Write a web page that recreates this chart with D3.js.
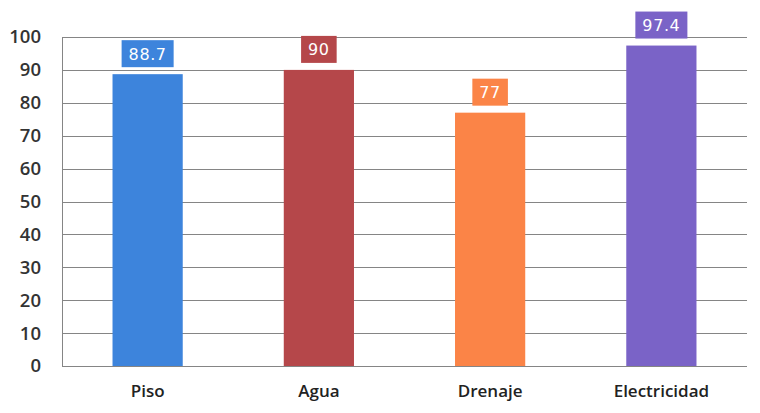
<!DOCTYPE html>
<html>
<head>
<meta charset="utf-8">
<script src="https://cdn.jsdelivr.net/npm/d3@7"></script>
<style>
  html, body { margin: 0; padding: 0; background: #fff; }
  svg { display: block; }
</style>
</head>
<body>
<svg id="chart" width="760" height="413"></svg>
<script>
// Porcentaje de viviendas con cada servicio
const categories = ["Piso", "Agua", "Drenaje", "Electricidad"];
const values = [88.7, 90, 77, 97.4];
const colors = ["#3d84dc", "#b5474a", "#fb8447", "#7a63c7"];
const yTicks = [0, 10, 20, 30, 40, 50, 60, 70, 80, 90, 100];

const svg = d3.select("#chart");
const margin = { left: 62, right: 13, top: 37, bottom: 47 };
const W = 760, H = 413;

const x = d3.scaleBand()
  .domain(categories)
  .range([margin.left, W - margin.right])
  .paddingInner(0.59)
  .paddingOuter(0.295);

const y = d3.scaleLinear()
  .domain([0, 100])
  .range([H - margin.bottom, margin.top]);

// horizontal gridlines
svg.append("g")
  .selectAll("line")
  .data(yTicks)
  .join("line")
  .attr("x1", margin.left)
  .attr("x2", W - margin.right)
  .attr("y1", d => Math.round(y(d)) + 0.5)
  .attr("y2", d => Math.round(y(d)) + 0.5)
  .attr("stroke", "#858585")
  .attr("stroke-width", 1);

// left axis line
svg.append("line")
  .attr("x1", margin.left + 0.5)
  .attr("x2", margin.left + 0.5)
  .attr("y1", y(100))
  .attr("y2", y(0))
  .attr("stroke", "#858585");

// y tick labels
const yAxis = d3.axisLeft(y).tickValues(yTicks).tickSize(0).tickPadding(21);
const gy = svg.append("g")
  .attr("transform", `translate(${margin.left},0)`)
  .call(yAxis);
gy.select(".domain").remove();
gy.selectAll("text")
  .attr("font-family", "'Open Sans', sans-serif")
  .attr("font-weight", 600)
  .attr("font-size", 18.5)
  .attr("fill", "#333");

// bars
svg.append("g")
  .selectAll("rect")
  .data(values)
  .join("rect")
  .attr("x", (d, i) => x(categories[i]))
  .attr("width", x.bandwidth())
  .attr("y", d => y(d))
  .attr("height", d => y(0) - y(d))
  .attr("fill", (d, i) => colors[i]);

// value labels in coloured boxes
const lab = svg.append("g")
  .selectAll("g")
  .data(values)
  .join("g")
  .attr("transform", (d, i) => `translate(${x(categories[i]) + x.bandwidth() / 2},${y(d) - 7})`);

lab.each(function(d, i) {
  const g = d3.select(this);
  const t = g.append("text")
    .attr("text-anchor", "middle")
    .attr("y", -7.5)
    .attr("font-family", "'DejaVu Sans', sans-serif")
    .attr("font-size", 16)
    .attr("fill", "#fff")
    .attr("letter-spacing", 0.6)
    .text(String(d));
  const w = t.node().getComputedTextLength() + 14;
  g.insert("rect", "text")
    .attr("x", -w / 2)
    .attr("y", -27)
    .attr("width", w)
    .attr("height", 27)
    .attr("fill", colors[i]);
});

// category labels
const xAxis = d3.axisBottom(x).tickSize(0).tickPadding(19);
const gx = svg.append("g")
  .attr("transform", `translate(0,${y(0)})`)
  .call(xAxis);
gx.select(".domain").remove();
gx.selectAll("text")
  .attr("font-family", "'Open Sans', sans-serif")
  .attr("font-weight", 600)
  .attr("font-size", 17)
  .attr("fill", "#222");
</script>
</body>
</html>
